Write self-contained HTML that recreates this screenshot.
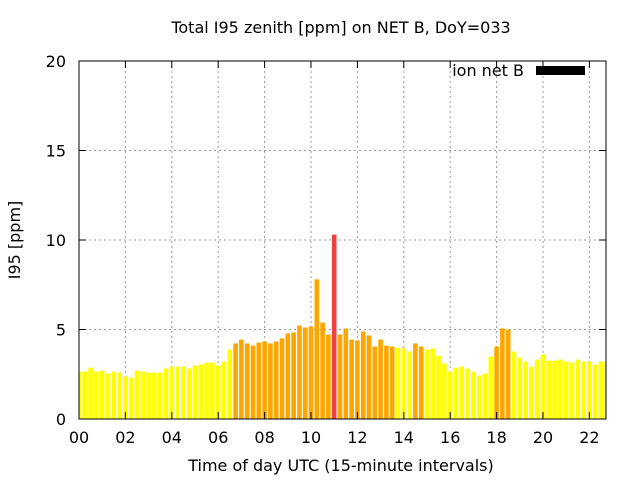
<!DOCTYPE html>
<html><head><meta charset="utf-8"><style>
body{margin:0;background:#fff;font-family:"DejaVu Sans",sans-serif}
svg text{font-family:"DejaVu Sans",sans-serif;font-size:16px;fill:#000}
</style></head><body>
<svg id="chart" width="640" height="480" xmlns="http://www.w3.org/2000/svg">
<text x="341" y="33" text-anchor="middle">Total I95 zenith [ppm] on NET B, DoY=033</text>
<text transform="translate(20,240) rotate(-90)" text-anchor="middle">I95 [ppm]</text>
<text x="341" y="471" text-anchor="middle">Time of day UTC (15-minute intervals)</text>
<g id="grid"></g>
<g id="bars"></g>
<g id="axes"></g>
<g>
<text x="524" y="76" text-anchor="end">ion net B</text>
<rect x="536" y="66" width="49" height="9" fill="#000"/>
</g>
</svg>
<script>
const values=[2.65,2.65,2.87,2.65,2.7,2.54,2.65,2.59,2.37,2.31,2.7,2.65,2.59,2.59,2.59,2.82,2.93,2.93,2.93,2.82,2.99,3.04,3.15,3.15,2.99,3.21,3.88,4.22,4.44,4.22,4.1,4.27,4.33,4.22,4.33,4.5,4.78,4.84,5.22,5.11,5.17,7.8,5.39,4.72,10.3,4.72,5.06,4.44,4.39,4.89,4.67,4.05,4.44,4.1,4.05,3.99,3.94,3.77,4.22,4.05,3.88,3.94,3.54,3.1,2.65,2.87,2.93,2.82,2.65,2.43,2.54,3.49,4.05,5.06,5.0,3.77,3.43,3.21,2.93,3.32,3.6,3.26,3.26,3.32,3.21,3.15,3.32,3.21,3.21,3.04,3.21,3.21];
const yTicks=[0,5,10,15,20];
const xTickLabels=["00","02","04","06","08","10","12","14","16","18","20","22"];
const L=79,R=606,T=61,B=419,step=5.8;
const X=i=>L+i*step, Y=v=>B-(v/20)*(B-T);
const ns="http://www.w3.org/2000/svg";
function mk(t,a,p){const e=document.createElementNS(ns,t);for(const k in a)e.setAttribute(k,a[k]);p.appendChild(e);return e;}
const grid=document.getElementById('grid'),bars=document.getElementById('bars'),axes=document.getElementById('axes');
yTicks.forEach(v=>{const y=Y(v);
 if(v>0&&v<20){const g=mk('line',{x1:L,x2:R,y1:y,y2:y,stroke:'#999','stroke-dasharray':'2,3'},grid);}
 const t=mk('line',{x1:L,x2:L+7,y1:y,y2:y,stroke:'#000'},axes);
 const t2=mk('line',{x1:R-7,x2:R,y1:y,y2:y,stroke:'#000'},axes);
 const l=mk('text',{x:L-13,y:y+6,'text-anchor':'end'},axes);l.textContent=v;});
xTickLabels.forEach((s,k)=>{const x=X(k*8);
 if(k>0){const g=mk('line',{x1:x,x2:x,y1:T,y2:B,stroke:'#999','stroke-dasharray':'2,3'},grid);}
 const t=mk('line',{x1:x,x2:x,y1:B,y2:B-7,stroke:'#000'},axes);
 const t2=mk('line',{x1:x,x2:x,y1:T,y2:T+7,stroke:'#000'},axes);
 const l=mk('text',{x:x,y:B+24,'text-anchor':'middle'},axes);l.textContent=s;});
mk('clipPath',{id:'pc'},bars).appendChild(document.createElementNS(ns,'rect'));
const cr=bars.querySelector('clipPath rect');cr.setAttribute('x',L);cr.setAttribute('y',T);cr.setAttribute('width',R-L);cr.setAttribute('height',B-T);
bars.setAttribute('clip-path','url(#pc)');
values.forEach((v,i)=>{const c=v>=10?'#f04040':(v>=4?'#ffa500':'#ffff00');
 const r=mk('rect',{x:X(i)-2.3,y:Y(v),width:4.6,height:B-Y(v),fill:c},bars);
 
 });
const f=mk('rect',{x:L,y:T,width:R-L,height:B-T,fill:'none',stroke:'#000','stroke-width':1},axes);


</script>
</body></html>
